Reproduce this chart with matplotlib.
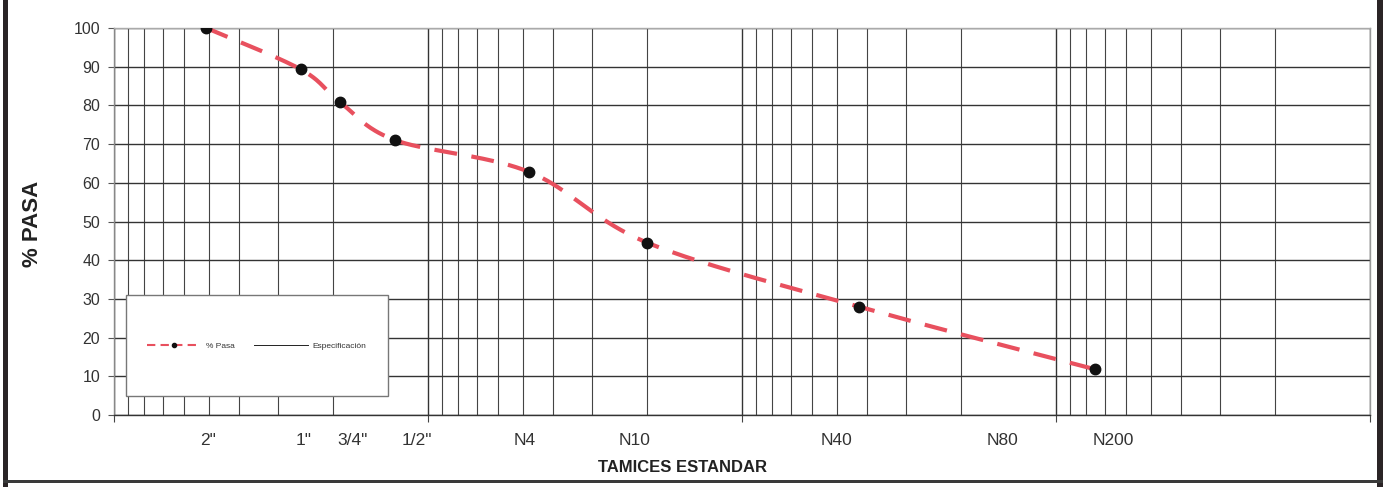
import numpy as np
import matplotlib
matplotlib.use("Agg")
import matplotlib.pyplot as plt
from matplotlib.lines import Line2D
from matplotlib.patches import Rectangle
from matplotlib.ticker import FixedLocator, LogLocator, NullFormatter
from matplotlib.transforms import offset_copy

plt.rcParams['font.family'] = ['Liberation Sans', 'DejaVu Sans']

# Sieve names and openings (mm)
sieve_labels = ['2"', '1"', '3/4"', '1/2"', 'N4', 'N10', 'N40', 'N80', 'N200']
sieve_sizes = [50.8, 25.4, 19.05, 12.7, 4.76, 2.0, 0.425, 0.18, 0.075]

# Grading results: opening (mm) and percent passing
pasa_sizes = [50.8, 25.4, 19.05, 12.7, 4.76, 2.0, 0.425, 0.075]
pasa_values = [100.0, 89.3, 80.8, 71.0, 62.8, 44.5, 28.0, 11.8]

y_ticks = [0, 10, 20, 30, 40, 50, 60, 70, 80, 90, 100]

# horizontal nudges (pixels) applied to the sieve names so they don't crowd
label_nudge_px = [2, 3, 12, 21, -5, -13, -22, 27, 18]

W, H = 1385, 487
fig = plt.figure(figsize=(W / 100, H / 100), dpi=100)
fig.patch.set_facecolor('white')
ax = fig.add_axes([114 / W, (H - 415) / H, (1370 - 114) / W, (415 - 28) / H])

ax.set_xscale('log')
ax.set_xlim(100, 0.01)
ax.set_ylim(0, 100)

# grid: decades as major, 2..9 as minor
ax.xaxis.set_major_locator(FixedLocator([100, 10, 1, 0.1, 0.01]))
ax.xaxis.set_minor_locator(LogLocator(base=10, subs=np.arange(2, 10)))
ax.xaxis.set_major_formatter(NullFormatter())
ax.xaxis.set_minor_formatter(NullFormatter())
ax.tick_params(axis='x', which='major', length=5, width=0.8, color='#444444', direction='out')
ax.tick_params(axis='x', which='minor', length=0)
ax.grid(True, which='major', axis='x', color='#333333', linewidth=1.0)
ax.grid(True, which='minor', axis='x', color='#444444', linewidth=0.8)

ax.set_yticks(y_ticks)
ax.tick_params(axis='y', length=4, width=0.8, color='#555555', pad=6,
               labelsize=11.5, labelcolor='#333333')
ax.grid(True, which='major', axis='y', color='#333333', linewidth=1.0)
ax.set_axisbelow(True)

for side, col in [('top', '#aaaaaa'), ('right', '#999999'), ('left', '#888888'), ('bottom', '#333333')]:
    ax.spines[side].set_color(col)
    ax.spines[side].set_linewidth(1.0)

# sieve names under the axis
for lab, s, dx in zip(sieve_labels, sieve_sizes, label_nudge_px):
    tr = offset_copy(ax.get_xaxis_transform(), fig=fig, x=dx, y=0, units='dots')
    ax.text(s, -0.065, lab, transform=tr, ha='center', va='center',
            fontsize=12.5, color='#333333')

fig.text(683 / W, (H - 467) / H, 'TAMICES ESTANDAR', ha='center', va='center',
         fontsize=12, fontweight='bold', color='#222222')
fig.text(33 / W, (H - 224) / H, '% PASA', ha='center', va='center', rotation=90,
         fontsize=16, fontweight='bold', color='#222222')

# smoothed curve (Catmull-Rom / Bezier) in display space through the points
pts = ax.transData.transform(np.column_stack([pasa_sizes, pasa_values]))
P = np.vstack([pts[0], pts, pts[-1]])
curve = []
t = np.linspace(0, 1, 40)[:, None]
for i in range(1, len(P) - 2):
    p0, p1, p2, p3 = P[i - 1], P[i], P[i + 1], P[i + 2]
    c1 = p1 + (p2 - p0) / 6.0
    c2 = p2 - (p3 - p1) / 6.0
    seg = ((1 - t) ** 3) * p1 + 3 * ((1 - t) ** 2) * t * c1 + 3 * (1 - t) * t ** 2 * c2 + t ** 3 * p2
    curve.append(seg if i == 1 else seg[1:])
curve = np.vstack(curve)
curve_data = ax.transData.inverted().transform(curve)

ax.plot(curve_data[:, 0], curve_data[:, 1], color='#e8505e', linewidth=3.0,
        linestyle=(0, (5.5, 3.5)), zorder=3, solid_capstyle='butt', dash_capstyle='butt')
ax.plot(pasa_sizes, pasa_values, linestyle='none', marker='o', markersize=7.5,
        color='#111111', zorder=4)

# legend box
rx0, rx1, ry0, ry1 = 126, 388, 295, 396
box = Rectangle((rx0 / W, (H - ry1) / H), (rx1 - rx0) / W, (ry1 - ry0) / H,
                transform=fig.transFigure, facecolor='white', edgecolor='#777777',
                linewidth=1.0, zorder=5)
fig.add_artist(box)
handles = [
    Line2D([], [], color='#e8505e', linewidth=1.5, linestyle=(0, (4, 2.5)),
           marker='o', markersize=3, markerfacecolor='#111111', markeredgecolor='#111111'),
    Line2D([], [], color='#222222', linewidth=0.7),
]
leg = fig.legend(handles, ['% Pasa', 'Especificación'], loc='center',
                 bbox_to_anchor=((rx0 + rx1) / 2 / W, (H - 346) / H),
                 ncol=2, frameon=False, fontsize=6, handlelength=6.4,
                 handletextpad=0.6, columnspacing=2.4, labelcolor='#333333')
leg.set_zorder(6)

# outer page frame
fig.add_artist(Rectangle((3 / W, 0), 5 / W, 1, transform=fig.transFigure,
                         facecolor='#2a2426', edgecolor='none'))
fig.add_artist(Rectangle((1377 / W, 0), 6 / W, 1, transform=fig.transFigure,
                         facecolor='#2a2426', edgecolor='none'))
fig.add_artist(Rectangle((3 / W, (H - 483) / H), (1383 - 3) / W, 3 / H, transform=fig.transFigure,
                         facecolor='#3a3a3a', edgecolor='none'))

fig.savefig('out.png', dpi=100, facecolor='white')
